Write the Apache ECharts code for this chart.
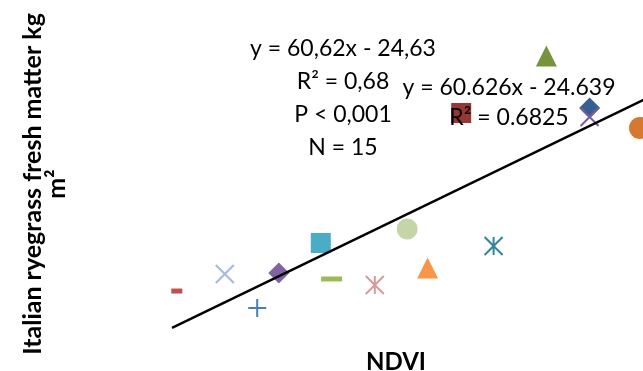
<!DOCTYPE html>
<html><head><meta charset="utf-8">
<script src="https://cdn.jsdelivr.net/npm/echarts@6/dist/echarts.min.js"></script>
<style>html,body{margin:0;padding:0;background:#fff}#c{width:643px;height:371px}</style>
</head><body><div id="c"></div>
<script>
// NDVI values of the 15 plots
const ndvi = [0.464, 0.504, 0.531, 0.549, 0.584, 0.593, 0.629, 0.656, 0.673, 0.728, 0.701, 0.772, 0.808, 0.808, 0.850];
// Italian ryegrass fresh matter
const freshMatter = [7.10, 8.88, 5.33, 8.99, 12.12, 8.36, 7.73, 13.58, 9.51, 11.81, 25.70, 31.66, 26.23, 25.28, 24.14];
// trendline y = slope*x + intercept, drawn across this NDVI span
const slope = 60.626, intercept = -24.639;
const trendX = [0.46, 0.86];
// annotation text
const statsLines = ['y = 60,62x - 24,63', 'R² = 0,68', 'P < 0,001', 'N = 15'];
const excelLabel = ['y = 60.626x - 24.639', 'R² = 0.6825'];
const xTitle = 'NDVI';
const yTitle = ['Italian ryegrass fresh matter kg', 'm²'];

// marker styles (one per point)
const X = 'path://M0,0L10,10M10,0L0,10';
const PLUS = 'path://M5,0L5,10M0,5L10,5';
const AST = 'path://M0,0L10,10M10,0L0,10M5,0L5,10';
const styles = [
  {s: 'rect', size: [11, 5], c: '#C0504D'},
  {s: X, size: 18, c: '#A5B9DA', line: true},
  {s: PLUS, size: 18, c: '#4A7EBB', line: true},
  {s: 'diamond', size: 21, c: '#8064A2'},
  {s: 'rect', size: 20, c: '#4BACC6'},
  {s: 'rect', size: [21, 5], c: '#9BBB59'},
  {s: AST, size: 18, c: '#D99A98', line: true},
  {s: 'circle', size: 21, c: '#C4D6A8'},
  {s: 'triangle', size: 21, c: '#F79646'},
  {s: AST, size: 18, c: '#31859C', line: true},
  {s: 'rect', size: 20, c: '#953735'},
  {s: 'triangle', size: 21, c: '#77933C'},
  {s: 'diamond', size: 21, c: '#376092'},
  {s: X, size: 18, c: '#7B5EA0', line: true},
  {s: 'circle', size: 22, c: '#D6792F'}
];

const pts = ndvi.map((x, i) => {
  const st = styles[i];
  return {
    value: [x, freshMatter[i]],
    symbol: st.s,
    symbolSize: st.size,
    itemStyle: st.line ? {color: 'rgba(0,0,0,0)', borderColor: st.c, borderWidth: 2, opacity: 1}
                       : {color: st.c, opacity: 1}
  };
});

const FONT = 'Lato';
const graphics = [];
statsLines.forEach((t, i) => graphics.push({type: 'text', x: 343, y: 49 + i * 33, z: 100,
  style: {text: t, font: '23px ' + FONT, fill: '#000', textAlign: 'center', textVerticalAlign: 'middle'}}));
excelLabel.forEach((t, i) => graphics.push({type: 'text', x: 509, y: 88 + i * 30, z: 100,
  style: {text: t, font: '23px ' + FONT, fill: '#000', textAlign: 'center', textVerticalAlign: 'middle'}}));
graphics.push({type: 'text', x: 396, y: 362, z: 100,
  style: {text: xTitle, font: 'bold 24px ' + FONT, fill: '#000', textAlign: 'center', textVerticalAlign: 'middle'}});
graphics.push({type: 'text', x: 33, y: 184, rotation: Math.PI / 2, z: 100,
  style: {text: yTitle[0], font: 'bold 25px ' + FONT, fill: '#000', textAlign: 'center', textVerticalAlign: 'middle'}});
graphics.push({type: 'text', x: 57, y: 184, rotation: Math.PI / 2, z: 100,
  style: {text: yTitle[1], font: 'bold 25px ' + FONT, fill: '#000', textAlign: 'center', textVerticalAlign: 'middle'}});

const chart = echarts.init(document.getElementById('c'), null, {renderer: 'canvas'});
chart.setOption({
  animation: false,
  backgroundColor: '#fff',
  grid: {left: 100, top: 24, right: 0, height: 335},
  xAxis: {type: 'value', min: 0.4, max: 0.8525, show: false},
  yAxis: {type: 'value', min: 0, max: 35, show: false},
  graphic: graphics,
  series: [
    {type: 'scatter', data: pts, z: 2, clip: false},
    {type: 'line', data: trendX.map(x => [x, slope * x + intercept]), symbol: 'none', z: 3,
      lineStyle: {color: '#000', width: 2.5}}
  ]
});
</script></body></html>
